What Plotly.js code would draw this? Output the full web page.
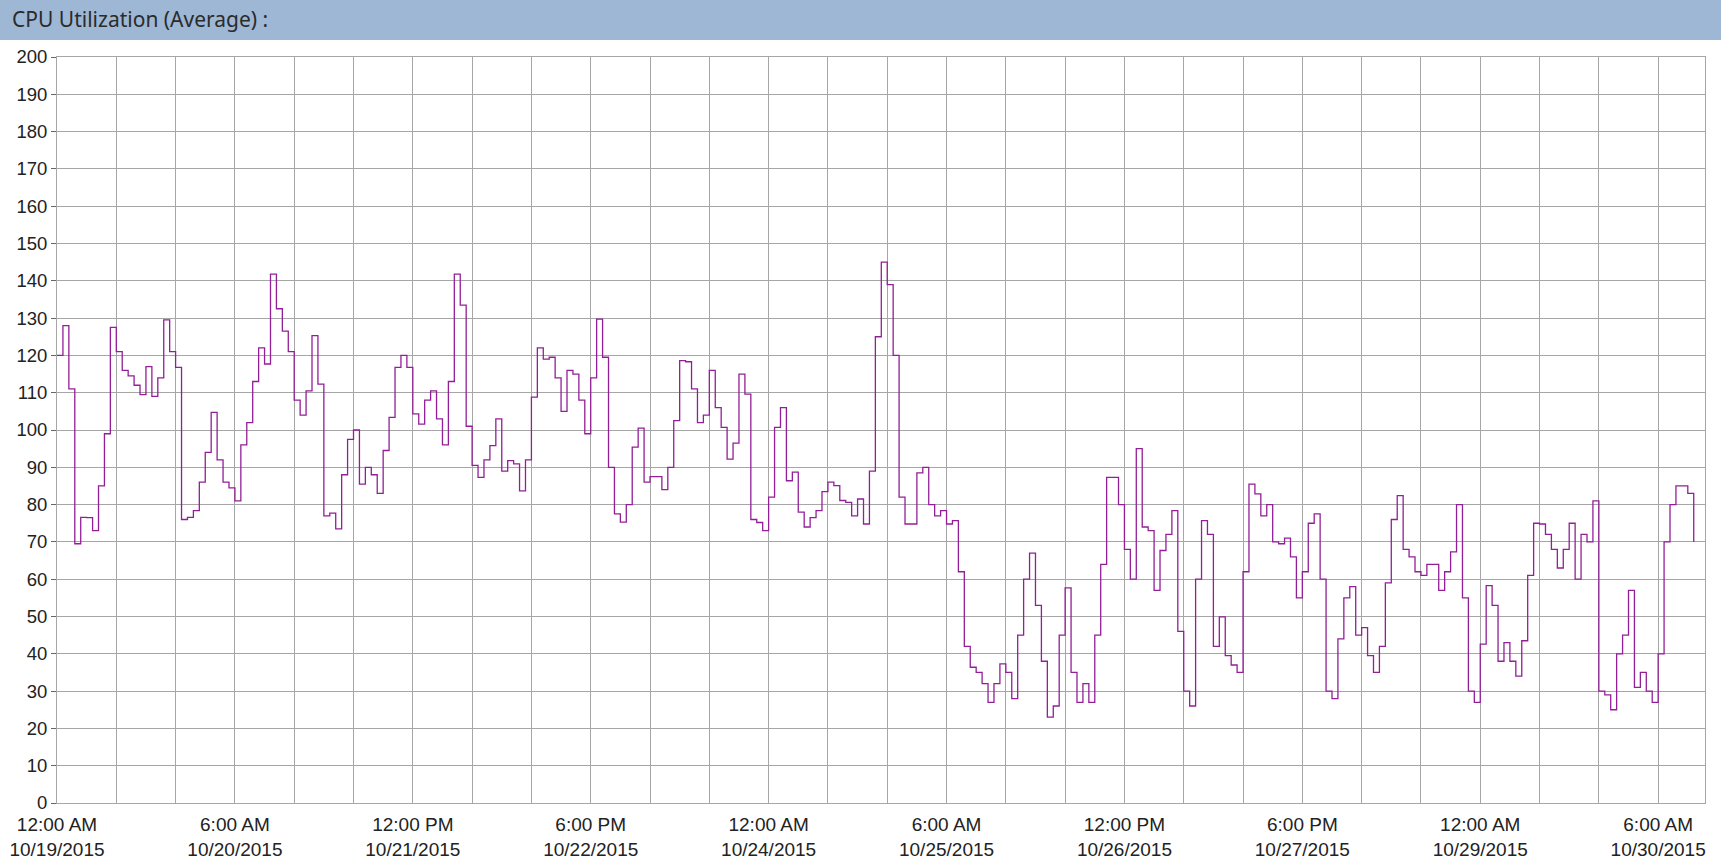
<!DOCTYPE html>
<html>
<head>
<meta charset="utf-8">
<script src="https://cdn.plot.ly/plotly-3.0.1.min.js"></script>
<style>
html,body{margin:0;padding:0;background:#fff;}
#chart{width:1721px;height:858px;}
</style>
</head>
<body>
<div id="chart"></div>
<script>
// Hourly average CPU utilization starting 12:00 AM 10/19/2015
const startLabel = "10/19/2015 12:00 AM";
const cpuAverage = [
 120,128,111,69.5,76.6,76.5,73,85,99,127.5,
 121,116,114.5,112,109.5,117,109,114,129.5,121,
 116.8,76,76.6,78.4,86,94,104.7,92,86,84.5,
 81,96,102,113,122,117.7,141.8,132.5,126.5,121,
 108,104,110.5,125.3,112.3,77,77.7,73.5,88,97.5,
 100,85.5,90,88,83,94.5,103.4,116.8,120,116.8,
 104.3,101.6,108,110.5,103,96,113,141.8,133.5,101,
 90.5,87.3,92,95.8,103,89,91.8,90.9,83.7,92,
 108.8,122,119,119.5,114,105,116,115,108,99,
 114,129.7,119.5,90,77.5,75.3,80,95.4,100.5,86,
 87.5,87.5,84,90,102.5,118.6,118.3,111,102,104,
 116,106,100.7,92.2,96.5,115,109.6,76,75.2,73,
 82,100.7,106,86.4,88.7,78,74,76.5,78.4,83.5,
 86,85.1,81.1,80.6,77,81.5,74.8,89,125,145,
 139,120,82,74.8,74.8,88.5,90,80,77,78.4,
 74.8,75.7,62,42,36.4,35,32,27,32,37.3,
 35,28,45,60,67,53,38,23,26,45,
 57.7,35,27,32,27,45,64,87.3,87.3,80,
 68,60,95,74,73,57,67.7,72,78.4,46,
 30,26,60,75.7,72,42,49.9,39.5,37,35,
 62,85.5,82.9,77,80,70,69.5,71,66,55,
 62,75,77.5,60,30,28,44,55,58,45,
 47,39.5,35,42,59,76,82.4,68,66,62,
 61,64,64,57,62,67.3,80,55,30,27,
 42.6,58.3,53,38,43,38,34,43.5,61,75,
 74.8,72,68,63,68,75,60,72,70,81,
 30,29,25,40,45,57,31,35,30,27,
 40,70,80,85,85,83,70
];
const tickHours = [0,30,60,90,120,150,180,210,240,270];
const tickLabels = [
 "12:00 AM<br>10/19/2015","6:00 AM<br>10/20/2015","12:00 PM<br>10/21/2015",
 "6:00 PM<br>10/22/2015","12:00 AM<br>10/24/2015","6:00 AM<br>10/25/2015",
 "12:00 PM<br>10/26/2015","6:00 PM<br>10/27/2015","12:00 AM<br>10/29/2015",
 "6:00 AM<br>10/30/2015"
];
const hoursSinceStart = cpuAverage.map((v,i)=>i);

const grid = '#a6a6a6';
const trace = {
  x: hoursSinceStart, y: cpuAverage, type: 'scatter', mode: 'lines',
  line: {color: '#931f98', width: 1.3, shape: 'hv'},
  hoverinfo: 'y'
};
const layout = {
  width: 1721, height: 858,
  margin: {l: 57, r: 16, t: 57, b: 55},
  paper_bgcolor: '#ffffff', plot_bgcolor: '#ffffff',
  showlegend: false,
  title: {text: 'CPU Utilization (Average) :', x: 0.007, xref: 'container', xanchor: 'left',
          y: 1 - 20/858, yref: 'container', yanchor: 'middle',
          font: {family: 'Noto Sans, Open Sans, sans-serif', size: 21, color: '#2b2b2b'}},
  shapes: [{type: 'rect', xref: 'paper', yref: 'paper', x0: -0.05, x1: 1.05,
            y0: (803-40)/746, y1: 1.1, fillcolor: '#9db7d5', line: {width: 0}, layer: 'below'}],
  xaxis: {
    range: [0, 277.9], tickmode: 'array', tickvals: tickHours, ticktext: tickLabels,
    showgrid: true, gridcolor: grid, gridwidth: 1,
    minor: {tickmode: 'linear', tick0: 0, dtick: 10, showgrid: true, gridcolor: grid, gridwidth: 1, ticks: ''},
    showline: true, linecolor: grid, linewidth: 1, mirror: true,
    ticks: '', zeroline: false, ticklabelstandoff: 4,
    tickfont: {family: 'Liberation Sans, Arial, sans-serif', size: 19, color: '#222'}
  },
  yaxis: {
    range: [0, 200], tickmode: 'linear', tick0: 0, dtick: 10,
    showgrid: true, gridcolor: grid, gridwidth: 1,
    showline: true, linecolor: grid, linewidth: 1, mirror: true,
    ticks: 'outside', ticklen: 5, tickcolor: '#666', zeroline: false,
    tickfont: {family: 'Liberation Sans, Arial, sans-serif', size: 18.5, color: '#222'}
  }
};
Plotly.newPlot('chart', [trace], layout, {displayModeBar: false, staticPlot: true});
</script>
</body>
</html>
